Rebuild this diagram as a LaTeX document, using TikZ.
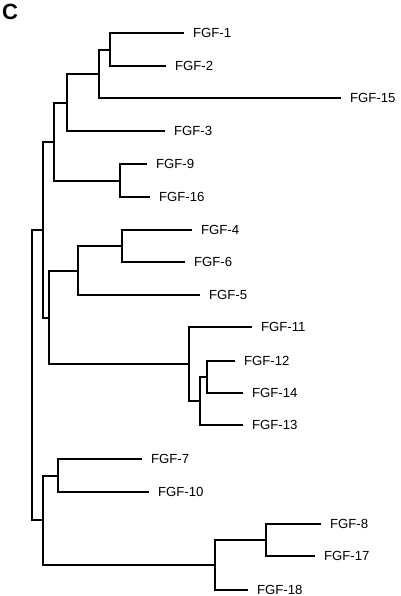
\documentclass[tikz,border=0pt]{standalone}
\usepackage{fontspec}
\setmainfont{Liberation Sans}
\begin{document}
\begin{tikzpicture}[x=1pt,y=-1pt,
  branch/.style={draw=black,line width=2pt,line join=miter},
  leaf/.style={anchor=west,inner xsep=9pt,inner ysep=0pt,outer sep=0pt,font=\fontsize{13.2}{15}\selectfont}]
\useasboundingbox (0,0) rectangle (400,596);
\node[anchor=north west,inner sep=0pt,font=\fontsize{22}{24}\selectfont\bfseries] (lbl) at (2,4) {C};
% leaves
\node[leaf] (f1) at (184,33) {FGF-1};
\node[leaf] (f2) at (166,66) {FGF-2};
\node[leaf] (f15) at (341,98) {FGF-15};
\node[leaf] (f3) at (165,131) {FGF-3};
\node[leaf] (f9) at (147,164) {FGF-9};
\node[leaf] (f16) at (150,197) {FGF-16};
\node[leaf] (f4) at (192,230) {FGF-4};
\node[leaf] (f6) at (185,262) {FGF-6};
\node[leaf] (f5) at (200,295) {FGF-5};
\node[leaf] (f11) at (252,327) {FGF-11};
\node[leaf] (f12) at (235,361) {FGF-12};
\node[leaf] (f14) at (243,393) {FGF-14};
\node[leaf] (f13) at (243,425) {FGF-13};
\node[leaf] (f7) at (142,459) {FGF-7};
\node[leaf] (f10) at (149,492) {FGF-10};
\node[leaf] (f8) at (321,524) {FGF-8};
\node[leaf] (f17) at (315,556) {FGF-17};
\node[leaf] (f18) at (248,590) {FGF-18};
% internal nodes
\coordinate (A) at (110,50);
\coordinate (B) at (99,74);
\coordinate (C) at (67,103);
\coordinate (E) at (120,181);
\coordinate (D) at (54,142);
\coordinate (I) at (122,246);
\coordinate (H) at (78,271);
\coordinate (L) at (207,377);
\coordinate (K) at (200,401);
\coordinate (J) at (189,364);
\coordinate (G) at (49,318);
\coordinate (F) at (43,230);
\coordinate (N) at (58,476);
\coordinate (P) at (266,540);
\coordinate (O) at (215,565);
\coordinate (M) at (43,520);
\coordinate (R) at (32,375);
% branches
\path[branch] (A) |- (f1) (A) |- (f2);
\path[branch] (B) |- (A) (B) |- (f15);
\path[branch] (C) |- (B) (C) |- (f3);
\path[branch] (E) |- (f9) (E) |- (f16);
\path[branch] (D) |- (C) (D) |- (E);
\path[branch] (I) |- (f4) (I) |- (f6);
\path[branch] (H) |- (I) (H) |- (f5);
\path[branch] (L) |- (f12) (L) |- (f14);
\path[branch] (K) |- (L) (K) |- (f13);
\path[branch] (J) |- (f11) (J) |- (K);
\path[branch] (G) |- (H) (G) |- (J);
\path[branch] (F) |- (D) (F) |- (G);
\path[branch] (N) |- (f7) (N) |- (f10);
\path[branch] (P) |- (f8) (P) |- (f17);
\path[branch] (O) |- (P) (O) |- (f18);
\path[branch] (M) |- (N) (M) |- (O);
\path[branch] (R) |- (F) (R) |- (M);
\end{tikzpicture}
\end{document}
